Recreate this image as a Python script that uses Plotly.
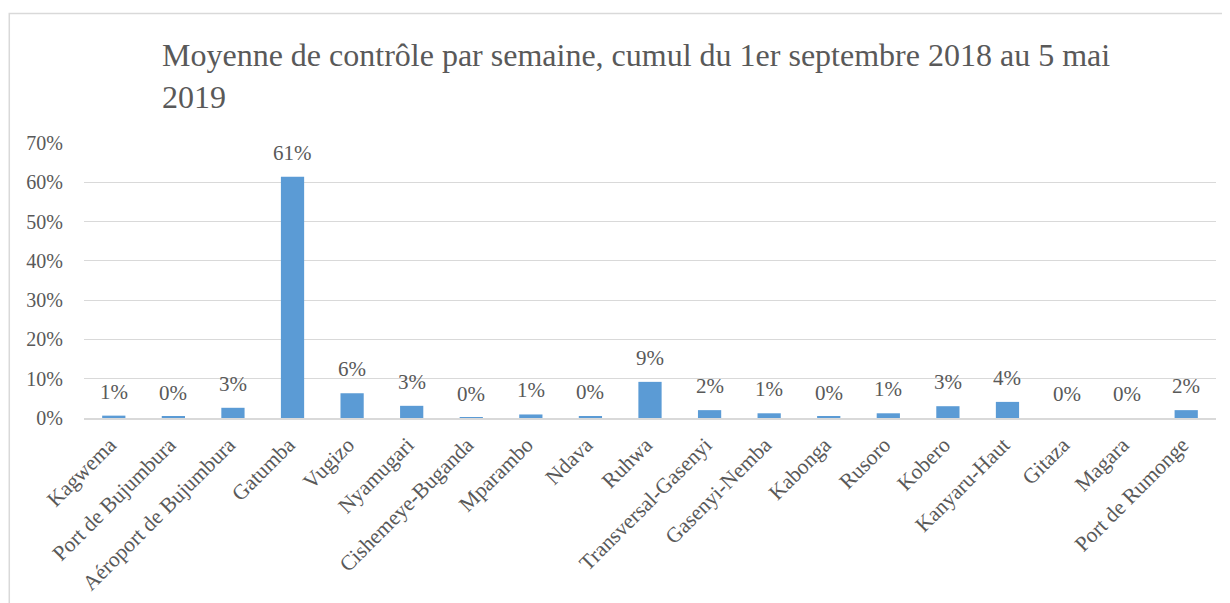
import plotly.graph_objects as go

categories = ["Kagwema", "Port de Bujumbura", "Aéroport de Bujumbura", "Gatumba", "Vugizo",
              "Nyamugari", "Cishemeye-Buganda", "Mparambo", "Ndava", "Ruhwa",
              "Transversal-Gasenyi", "Gasenyi-Nemba", "Kabonga", "Rusoro", "Kobero",
              "Kanyaru-Haut", "Gitaza", "Magara", "Port de Rumonge"]
values = [0.006, 0.003, 0.026, 0.614, 0.063, 0.031, 0.001, 0.009, 0.004, 0.092,
          0.020, 0.012, 0.003, 0.012, 0.030, 0.041, 0.0, 0.0, 0.020]
y_ticks = [0, 0.1, 0.2, 0.3, 0.4, 0.5, 0.6, 0.7]
title_text = "Moyenne de contrôle par semaine, cumul du 1er septembre 2018 au 5 mai<br>2019"

FONT = "Liberation Serif"
GREY = "#595959"

fig = go.Figure()
fig.add_trace(go.Bar(x=categories, y=values, marker_color="#5B9BD5",
                     marker_line_width=0, hoverinfo="x+y"))

for c, v in zip(categories, values):
    fig.add_annotation(x=c, y=v, text=f"{round(v * 100)}%", showarrow=False,
                       yanchor="bottom", yshift=10,
                       font=dict(family=FONT, size=21, color=GREY))

# the page body has an 8px margin, so the figure is sized/offset to compensate
W, H = 1222, 595
L, R, T, B = 75.5, 14, 134.6, 185.3
pw = W - L - R
ph = H - T - B

# chart border
fig.add_shape(type="rect", xref="paper", yref="paper",
              x0=(0.75 - L) / pw, x1=(W + 10 - L) / pw,
              y0=(H - B - (H + 10)) / ph, y1=(H - B - 5) / ph,
              line=dict(color="#d9d9d9", width=1.5), fillcolor="rgba(0,0,0,0)", layer="below")

fig.update_layout(
    width=W, height=H,
    margin=dict(l=L, r=R, t=T, b=B, pad=0, autoexpand=False),
    paper_bgcolor="white", plot_bgcolor="white",
    bargap=0.61,
    showlegend=False,
    title=dict(text=title_text, xref="container", yref="container",
               x=154 / W, xanchor="left", y=1 - 58 / H, yanchor="top",
               font=dict(family=FONT, size=32, color=GREY)),
    xaxis=dict(tickangle=-45, tickfont=dict(family=FONT, size=21.5, color=GREY),
               showline=True, linecolor="#d9d9d9", linewidth=1.5, automargin=False,
               showgrid=False, ticks="", ticklabelstandoff=4, ticklabelshift=-4,
               fixedrange=True),
    yaxis=dict(range=[0, 0.7], tickvals=y_ticks, tickformat=".0%",
               tickfont=dict(family=FONT, size=20, color=GREY), automargin=False,
               showgrid=True, gridcolor="#d9d9d9", gridwidth=1,
               zeroline=False, showline=False, ticks="", ticklabelstandoff=20,
               fixedrange=True),
)

fig.write_html("out.html")
